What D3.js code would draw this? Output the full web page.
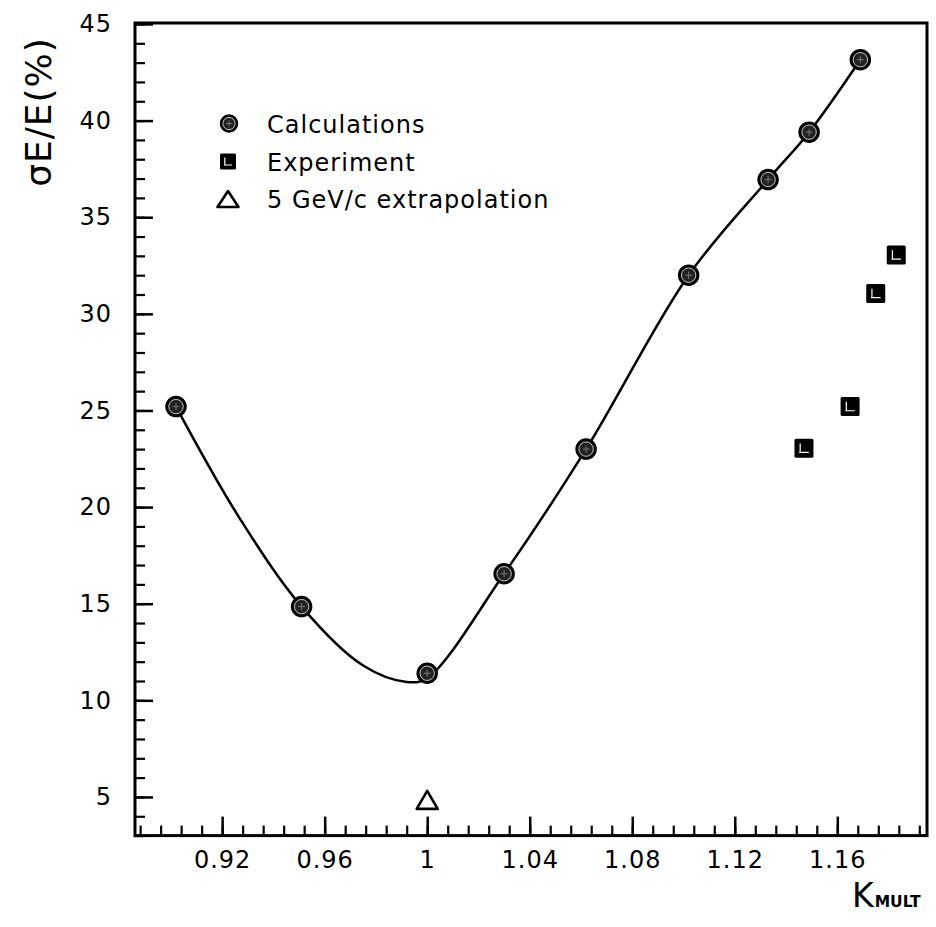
<!DOCTYPE html>
<html><head><meta charset="utf-8">
<script src="https://cdn.jsdelivr.net/npm/d3@7"></script>
<style>body{margin:0;background:#fff}</style>
</head><body><svg id="c" width="936" height="927"></svg>
<script>
// ---- data ----
const calcK     = [0.902, 0.951, 1.000, 1.030, 1.062, 1.102, 1.133, 1.149, 1.169];
const calcSigma = [25.2, 14.85, 11.4, 16.55, 23.0, 32.0, 36.95, 39.4, 43.15];
const curveK     = [0.902, 0.926, 0.951, 0.975, 0.992, 1.000, 1.030, 1.062, 1.102, 1.133, 1.149, 1.169];
const curveSigma = [25.2, 19.6, 14.85, 11.8, 10.95, 11.15, 16.55, 23.0, 32.0, 36.95, 39.4, 43.15];
const expK     = [1.147, 1.165, 1.175, 1.183];
const expSigma = [23.05, 25.2, 31.05, 33.05];
const extrapK = [1.000];
const extrapSigma = [4.85];
const xTicks = [0.92, 0.96, 1.00, 1.04, 1.08, 1.12, 1.16];
const xTickLabels = ["0.92", "0.96", "1", "1.04", "1.08", "1.12", "1.16"];
const yTicks = [5, 10, 15, 20, 25, 30, 35, 40, 45];
const yTickLabels = ["5", "10", "15", "20", "25", "30", "35", "40", "45"];
const legendLabels = ["Calculations", "Experiment", "5 GeV/c extrapolation"];

const svg = d3.select("#c");
const FONT = "DejaVu Sans, sans-serif";
const L = 135, R = 927, T = 23, B = 835.6;
const x = d3.scaleLinear().domain([0.886, 1.195]).range([L, R]);
const y = d3.scaleLinear().domain([3, 45.05]).range([B, T]);

// minor ticks
const xMinor = d3.range(0.888, 1.1935, 0.008);
const yMinor = d3.range(3, 45.5, 1);

svg.append("g").attr("transform", `translate(0,${B})`)
  .call(d3.axisBottom(x).tickValues(xMinor).tickFormat("").tickSizeInner(-10).tickSizeOuter(0))
  .call(g => g.select(".domain").remove())
  .call(g => g.selectAll("line").attr("stroke-width", 2.2));
svg.append("g").attr("transform", `translate(0,${B})`)
  .call(d3.axisBottom(x).tickValues(xTicks).tickFormat((d, i) => xTickLabels[i]).tickSizeInner(-19).tickSizeOuter(0).tickPadding(15))
  .call(g => g.select(".domain").remove())
  .call(g => g.selectAll("line").attr("stroke-width", 2.5))
  .call(g => g.selectAll("text").attr("font-family", FONT).attr("font-size", 24).attr("fill", "#000").attr("letter-spacing", 1));

svg.append("g").attr("transform", `translate(${L},0)`)
  .call(d3.axisLeft(y).tickValues(yMinor).tickFormat("").tickSizeInner(-10).tickSizeOuter(0))
  .call(g => g.select(".domain").remove())
  .call(g => g.selectAll("line").attr("stroke-width", 2.2));
svg.append("g").attr("transform", `translate(${L},0)`)
  .call(d3.axisLeft(y).tickValues(yTicks).tickFormat((d, i) => yTickLabels[i]).tickSizeInner(-18).tickSizeOuter(0).tickPadding(23))
  .call(g => g.select(".domain").remove())
  .call(g => g.selectAll("line").attr("stroke-width", 2.5))
  .call(g => g.selectAll("text").attr("font-family", FONT).attr("font-size", 24).attr("fill", "#000").attr("letter-spacing", 1));

// frame
svg.append("rect").attr("x", L).attr("y", T).attr("width", R - L).attr("height", B - T)
  .attr("fill", "none").attr("stroke", "#000").attr("stroke-width", 3);

// axis titles
svg.append("text").attr("transform", "translate(51,112) rotate(-90)")
  .attr("text-anchor", "middle").attr("font-family", FONT).attr("font-size", 36)
  .attr("letter-spacing", 1).text("σE/E(%)");
const xt = svg.append("text").attr("x", 852).attr("y", 907).attr("font-family", FONT);
xt.append("tspan").attr("font-size", 33).text("K");
xt.append("tspan").attr("font-size", 15.5).attr("font-weight", "bold").attr("dx", 1).text("MULT");

// curve
const curvePts = curveK.map((k, i) => [k, curveSigma[i]]);
svg.append("path").datum(curvePts)
  .attr("d", d3.line().x(d => x(d[0])).y(d => y(d[1])).curve(d3.curveCatmullRom.alpha(0.5)))
  .attr("fill", "none").attr("stroke", "#000").attr("stroke-width", 2.5);

// marker helpers
function circleMarker(g, cx, cy, r) {
  g.append("circle").attr("cx", cx).attr("cy", cy).attr("r", r).attr("fill", "#000").attr("stroke", "#000").attr("stroke-width", 1.5);
  g.append("circle").attr("cx", cx).attr("cy", cy).attr("r", r * 0.72).attr("fill", "#222").attr("stroke", "#ddd").attr("stroke-width", 0.9);
  g.append("path").attr("d", `M${cx - r * 0.35},${cy}H${cx + r * 0.35}M${cx},${cy - r * 0.35}V${cy + r * 0.35}`)
    .attr("stroke", "#777").attr("stroke-width", 1);
}
function squareMarker(g, cx, cy, s) {
  g.append("rect").attr("x", cx - s / 2).attr("y", cy - s / 2).attr("width", s).attr("height", s)
    .attr("fill", "#000").attr("rx", 1.5);
  g.append("path").attr("d", `M${cx - s * 0.2},${cy - s * 0.25}V${cy + s * 0.2}M${cx - s * 0.25},${cy + s * 0.22}H${cx + s * 0.25}`)
    .attr("stroke", "#fff").attr("stroke-width", 1.2);
}
function triMarker(g, cx, cy, w, h) {
  g.append("path").attr("d", `M${cx},${cy - h / 2}L${cx + w / 2},${cy + h / 2}L${cx - w / 2},${cy + h / 2}Z`)
    .attr("fill", "none").attr("stroke", "#000").attr("stroke-width", 2.6).attr("stroke-linejoin", "round");
}

const marks = svg.append("g");
calcK.forEach((k, i) => circleMarker(marks, x(k), y(calcSigma[i]), 10));
expK.forEach((k, i) => squareMarker(marks, x(k), y(expSigma[i]), 19));
extrapK.forEach((k, i) => triMarker(marks, x(k), y(extrapSigma[i]), 21, 18));

// legend
const lg = svg.append("g");
const rowY = [123.5, 161.5, 199];
circleMarker(lg, 229, rowY[0], 8.5);
squareMarker(lg, 228, rowY[1], 16);
triMarker(lg, 228, rowY[2], 21, 16);
legendLabels.forEach((t, i) => {
  lg.append("text").attr("x", 267).attr("y", rowY[i] + 9).attr("font-family", FONT)
    .attr("font-size", 24).attr("letter-spacing", 1).text(t);
});
</script></body></html>
